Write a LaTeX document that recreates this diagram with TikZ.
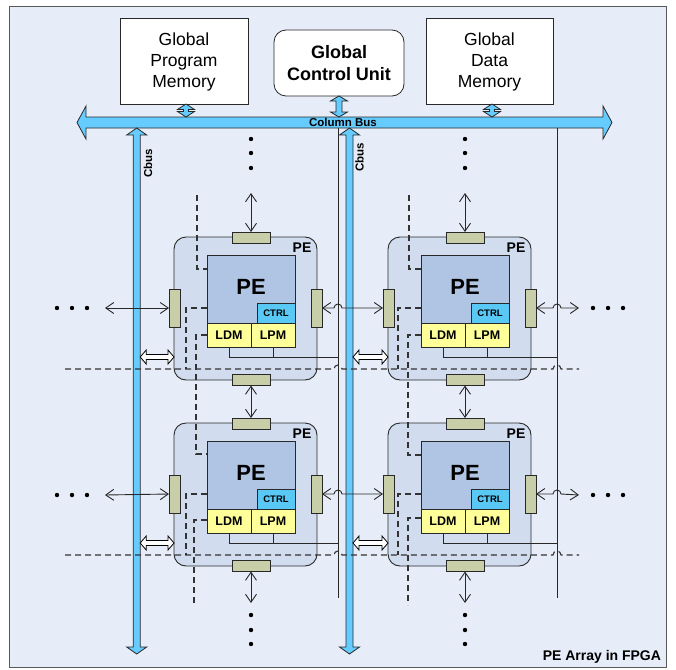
\documentclass[tikz,border=0pt]{standalone}
\usepackage{fontspec}
\setmainfont{Liberation Sans}
\usetikzlibrary{arrows.meta,calc}
\definecolor{bg}{RGB}{231,237,248}
\definecolor{tilefill}{RGB}{209,221,238}
\definecolor{pefill}{RGB}{176,197,228}
\definecolor{ctrlfill}{RGB}{90,200,245}
\definecolor{memfill}{RGB}{255,255,153}
\definecolor{portfill}{RGB}{200,206,168}
\definecolor{busfill}{RGB}{102,204,255}
\definecolor{edge}{RGB}{40,40,40}
\tikzset{
  every node/.style={inner sep=0pt,outer sep=0pt},
  topbox/.style={draw=edge,line width=0.8pt,fill=white,align=center,font=\fontsize{17.5}{21}\selectfont},
  tileouter/.style={draw=edge,line width=0.9pt,fill=tilefill,rounded corners=12pt,minimum width=143pt,minimum height=143pt},
  pebox/.style={draw=edge,line width=0.8pt,fill=pefill,minimum width=88pt,minimum height=68pt,font=\bfseries\fontsize{22}{22}\selectfont,text depth=4pt},
  ctrlbox/.style={draw=edge,line width=0.8pt,fill=ctrlfill,minimum width=38pt,minimum height=20pt,font=\bfseries\fontsize{9.5}{10}\selectfont},
  membox/.style={draw=edge,line width=0.8pt,fill=memfill,minimum width=44pt,minimum height=24pt,font=\bfseries\fontsize{12.5}{13}\selectfont},
  hport/.style={draw=edge,line width=0.8pt,fill=portfill,minimum width=38pt,minimum height=11pt},
  vport/.style={draw=edge,line width=0.8pt,fill=portfill,minimum width=11pt,minimum height=38pt},
  pelabel/.style={font=\bfseries\fontsize{14}{14}\selectfont},
  wire/.style={draw=edge,line width=0.9pt},
  dashln/.style={draw=black!80,line width=1.1pt,dash pattern=on 6pt off 4pt},
  biarr/.style={wire,{Straight Barb[length=8pt,width=11pt]}-{Straight Barb[length=8pt,width=11pt]}},
  busarrow/.style={draw=edge,line width=0.8pt,fill=busfill},
  hollow/.style={draw=black,line width=0.8pt,fill=white},
  buslabel/.style={font=\bfseries\fontsize{11.5}{12}\selectfont},
  dotmark/.style={fill=black}
}
\newcommand\vbiarrow[6]{\draw[busarrow] (#1,#2) -- (#1+#5,#2+#6) -- (#1+#4,#2+#6) -- (#1+#4,#3-#6) -- (#1+#5,#3-#6) -- (#1,#3) -- (#1-#5,#3-#6) -- (#1-#4,#3-#6) -- (#1-#4,#2+#6) -- (#1-#5,#2+#6) -- cycle;}
\newcommand\hollowarr[2]{\draw[hollow] let \p1=(#1), \p2=(#2) in (\x1,\y1) -- (\x1+6pt,\y1+7pt) -- (\x1+6pt,\y1+2.5pt) -- (\x2-6pt,\y1+2.5pt) -- (\x2-6pt,\y1+7pt) -- (\x2,\y1) -- (\x2-6pt,\y1-7pt) -- (\x2-6pt,\y1-2.5pt) -- (\x1+6pt,\y1-2.5pt) -- (\x1+6pt,\y1-7pt) -- cycle;}
\newcommand\PEtile[3]{%
  \node[tileouter] (#1) at (#2+71.5,#3+71.5) {};
  \node[pelabel] (#1-lab) at (#2+128,#3+10.5) {PE};
  \node[pebox] (#1-pe) at (#2+77,#3+52) {PE};
  \node[ctrlbox] (#1-ctrl) at (#2+102,#3+76) {CTRL};
  \node[membox] (#1-ldm) at (#2+55,#3+98) {LDM};
  \node[membox] (#1-lpm) at (#2+99,#3+98) {LPM};
  \node[hport] (#1-t) at (#2+77,#3+0.5) {};
  \node[hport] (#1-b) at (#2+77,#3+143) {};
  \node[vport] (#1-l) at (#2+0.5,#3+71) {};
  \node[vport] (#1-r) at (#2+142.5,#3+71) {};
  \coordinate (#1-j) at (#2+55,#3+120);
}
\begin{document}
\begin{tikzpicture}[x=1pt,y=-1pt]
\useasboundingbox (0,0) rectangle (676,669);
\draw[fill=bg,draw=black!65,line width=0.8pt] (9,6) rectangle (666,667);
% top units
\node[topbox,minimum width=128pt,minimum height=86pt] (gpm) at (184,61) {\strut Global\\Program\\Memory};
\node[topbox,rounded corners=12pt,minimum width=130pt,minimum height=66pt,font=\bfseries\fontsize{18}{22}\selectfont] (gcu) at (339,63) {Global\\Control Unit};
\node[topbox,minimum width=127pt,minimum height=86pt] (gdm) at (489.5,61) {\strut Global\\Data\\Memory};
% column bus
\draw[busarrow] (77,122.5) -- (86,106) -- (86,117) -- (603,117) -- (603,106) -- (612,122.5) -- (603,139) -- (603,128) -- (86,128) -- (86,139) -- cycle;
\node[buslabel] (cbl) at (343,122.5) {Column Bus};
\vbiarrow{186}{104}{117}{2.5}{8.5}{5.5}
\vbiarrow{339}{96}{117}{3}{8.5}{5}
\vbiarrow{492}{104}{117}{2.5}{8.5}{5.5}
% Cbus
\vbiarrow{136.7}{128}{654}{3.5}{10}{7}
\vbiarrow{349.5}{128}{654}{3.5}{10}{7}
\node[buslabel,rotate=90] (cb1) at (148,163) {Cbus};
\node[buslabel,rotate=90] (cb2) at (359.5,157) {Cbus};
% vertical lines
\coordinate (v1) at (338,128);
\coordinate (v1b) at (338,598);
\coordinate (v2) at (557,128);
\coordinate (v2b) at (557,598);
\draw[wire] (v1) -- (v1b);
\draw[wire] (v2) -- (v2b);
% tiles
\PEtile{A}{174}{237}
\PEtile{B}{388}{237}
\PEtile{C}{174}{423}
\PEtile{D}{388}{423}
% memory wires
\draw[wire] (A-ldm.south) -- (A-j) -- (v1 |- A-j);
\draw[wire] (A-lpm.south) -- (A-lpm.south |- A-j);
\draw[wire] (C-ldm.south) -- (C-j) -- (v1 |- C-j);
\draw[wire] (C-lpm.south) -- (C-lpm.south |- C-j);
\draw[wire] (B-ldm.south) -- (B-j) -- (v2 |- B-j);
\draw[wire] (B-lpm.south) -- (B-lpm.south |- B-j);
\draw[wire] (D-ldm.south) -- (D-j) -- (v2 |- D-j);
\draw[wire] (D-lpm.south) -- (D-lpm.south |- D-j);
% dashed lines
\coordinate (dA) at (197,195);
\coordinate (dB) at (409,195);
\draw[dashln] (dA) |- ($(A-pe.north west)+(0,14)$);
\draw[dashln] (dB) |- ($(B-pe.north west)+(0,14)$);
\draw[dashln] ($(A-pe.north west)+(0,53)$) -| ($(A.north west)+(12,132)$);
\draw[dashln] ($(B-pe.north west)+(0,53)$) -| ($(B.north west)+(10,132)$);
\draw[dashln] ($(C-pe.north west)+(0,53)$) -| ($(C.north west)+(12,132)$);
\draw[dashln] ($(D-pe.north west)+(0,53)$) -| ($(D.north west)+(10,132)$);
\draw[dashln] ($(A-pe.north west)+(0,80)$) -- ++(-11,0) |- ($(C-pe.north west)+(0,13)$);
\draw[dashln] ($(B-pe.north west)+(0,80)$) -- ++(-13,0) |- ($(D-pe.north west)+(0,14)$);
\coordinate (dC) at (194,605);
\coordinate (dD) at (408,605);
\draw[dashln] ($(C-pe.north west)+(0,79)$) -| (dC);
\draw[dashln] ($(D-pe.north west)+(0,77)$) -| (dD);
\coordinate (h1L) at (65,369);
\coordinate (h1R) at (579,369);
\coordinate (h2L) at (65,555);
\coordinate (h2R) at (579,555);
\draw[dashln] (h1L) -- ($(v1 |- h1L)+(-4,0)$) arc[start angle=180,end angle=360,radius=4] -- ($(v2 |- h1L)+(-4,0)$) arc[start angle=180,end angle=360,radius=4] -- (h1R);
\draw[dashln] (h2L) -- ($(v1 |- h2L)+(-4,0)$) arc[start angle=180,end angle=360,radius=4] -- ($(v2 |- h2L)+(-4,0)$) arc[start angle=180,end angle=360,radius=4] -- (h2R);
% hollow arrows
\hollowarr{140.2,357}{A.west |- 0,357}
\hollowarr{353,357}{B.west |- 0,357}
\hollowarr{140.2,543}{C.west |- 0,543}
\hollowarr{353,543}{D.west |- 0,543}
% horizontal arrows
\coordinate (L1) at (105,308);
\coordinate (R1) at (579,308);
\coordinate (L2) at (105,495);
\coordinate (R2) at (579,495);
\draw[biarr] (L1) -- (A-l.west);
\draw[biarr] (A-r.east) -- ($(v1 |- A-r.east)+(-4,0)$) arc[start angle=180,end angle=360,radius=4] -- (B-l.west);
\draw[biarr] (B-r.east) -- ($(v2 |- B-r.east)+(-4,0)$) arc[start angle=180,end angle=360,radius=4] -- (R1);
\draw[biarr] (L2) -- (C-l.west);
\draw[biarr] (C-r.east) -- ($(v1 |- C-r.east)+(-4,0)$) arc[start angle=180,end angle=360,radius=4] -- (D-l.west);
\draw[biarr] (D-r.east) -- ($(v2 |- D-r.east)+(-4,0)$) arc[start angle=180,end angle=360,radius=4] -- (R2);
% vertical arrows
\coordinate (T1) at (251,193);
\coordinate (T2) at (465,193);
\coordinate (E1) at (251,603);
\coordinate (E2) at (465,603);
\draw[biarr] (T1) -- (A-t.north);
\draw[biarr] (T2) -- (B-t.north);
\draw[biarr] (A-b.south) -- (C-t.north);
\draw[biarr] (B-b.south) -- (D-t.north);
\draw[biarr] (C-b.south) -- (E1);
\draw[biarr] (D-b.south) -- (E2);
% dots
\foreach \yy in {139,153,168} {\fill[dotmark] (251,\yy) circle[radius=2.2]; \fill[dotmark] (465,\yy) circle[radius=2.2];}
\foreach \yy in {615,630,644} {\fill[dotmark] (251,\yy) circle[radius=2.2]; \fill[dotmark] (465,\yy) circle[radius=2.2];}
\foreach \xx in {57,72,87,593,608,623} {\fill[dotmark] (\xx,308) circle[radius=2.2]; \fill[dotmark] (\xx,495) circle[radius=2.2];}
\node[anchor=east,font=\bfseries\fontsize{14}{14}\selectfont] (title) at (661,657) {PE Array in FPGA};
\end{tikzpicture}
\end{document}
